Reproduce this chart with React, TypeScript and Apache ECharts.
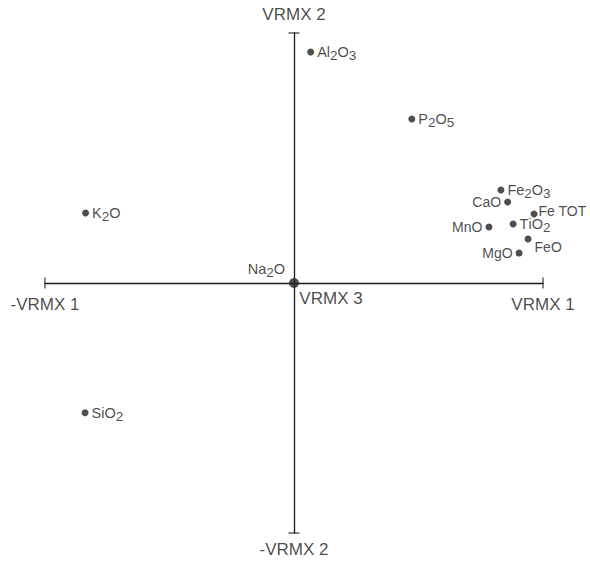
import React, { useEffect, useRef } from "react";
import * as echarts from "echarts";

const names = ["Al2O3", "P2O5", "K2O", "Fe2O3", "CaO", "Fe TOT", "MnO", "TiO2", "FeO", "MgO", "Na2O", "SiO2"];
const xs = [0.067, 0.473, -0.837, 0.831, 0.858, 0.964, 0.783, 0.88, 0.94, 0.904, 0, -0.839];
const ys = [0.924, 0.656, 0.28, 0.372, 0.324, 0.276, 0.224, 0.236, 0.176, 0.12, 0, -0.519];
const sides = ["right", "right", "right", "right", "left", "right", "left", "right", "right", "left", "left", "right"];

const axisEnds = [
  { name: "-VRMX 1", x: -1, y: 0, pos: "bottom", orient: "v" },
  { name: "VRMX 1", x: 1, y: 0, pos: "bottom", orient: "v" },
  { name: "VRMX 2", x: 0, y: 1, pos: "top", orient: "h" },
  { name: "-VRMX 2", x: 0, y: -1, pos: "bottom", orient: "h" },
];
const centerLabel = "VRMX 3";

const FONT = "'Liberation Sans', Arial, Helvetica, sans-serif";
const INK = "#1a1a1a";

function rich(s: string) {
  return s
    .split("")
    .map((c) => (/[0-9]/.test(c) ? `{s|${c}}` : `{n|${c}}`))
    .join("");
}

export default function App() {
  const ref = useRef<HTMLDivElement>(null);
  useEffect(() => {
    document.body.style.margin = "0";
    const chart = echarts.init(ref.current!, null, { renderer: "svg" });
    const richStyle = {
      n: { fontSize: 14.5, fontFamily: FONT, color: INK },
      s: { fontSize: 13.5, fontFamily: FONT, color: INK, padding: [7, 0, 0, 0] },
    };
    const pointData = names.map((n, i) => {
      const big = n === "Na2O";
      const hasDigit = /[0-9]/.test(n);
      const label: any = {
        show: true,
        position: sides[i],
        distance: 3,
        formatter: hasDigit ? rich(n) : n,
        rich: richStyle,
        fontSize: 14,
        fontFamily: FONT,
        color: INK,
      };
      if (n === "FeO") label.offset = [0, 8];
      if (n === "Na2O") label.offset = [-1, -14];
      if (n === "Fe TOT") {
        label.distance = 1;
        label.offset = [0, -3];
      }
      return {
        value: [xs[i], ys[i]],
        symbolSize: big ? 10 : 7,
        label,
      };
    });
    chart.setOption({
      animation: false,
      grid: { left: 45, top: 33, width: 498, height: 500 },
      xAxis: {
        type: "value",
        min: -1,
        max: 1,
        axisLine: { onZero: true, lineStyle: { color: INK, width: 1.3 } },
        axisTick: { show: false },
        axisLabel: { show: false },
        splitLine: { show: false },
      },
      yAxis: {
        type: "value",
        min: -1,
        max: 1,
        axisLine: { onZero: true, lineStyle: { color: INK, width: 1.3 } },
        axisTick: { show: false },
        axisLabel: { show: false },
        splitLine: { show: false },
      },
      series: [
        {
          type: "scatter",
          symbol: "rect",
          itemStyle: { color: INK },
          data: axisEnds.map((a) => ({
            value: [a.x, a.y],
            symbolSize: a.orient === "v" ? [1.3, 11] : [11, 1.3],
            label: {
              show: true,
              position: a.pos,
              distance: a.pos === "top" ? 9 : 7,
              formatter: a.name,
              fontSize: 17,
              fontFamily: FONT,
              color: INK,
            },
          })),
        },
        {
          type: "scatter",
          symbolSize: 0,
          data: [
            {
              value: [0, 0],
              label: {
                show: true,
                position: "bottom",
                distance: 7,
                offset: [37, 0],
                formatter: centerLabel,
                fontSize: 17,
                fontFamily: FONT,
                color: INK,
              },
            },
          ],
        },
        {
          type: "scatter",
          symbol: "circle",
          itemStyle: { color: "#222" },
          data: pointData,
        },
      ],
    });
    return () => chart.dispose();
  }, []);
  return <div ref={ref} style={{ width: 590, height: 563 }} />;
}
